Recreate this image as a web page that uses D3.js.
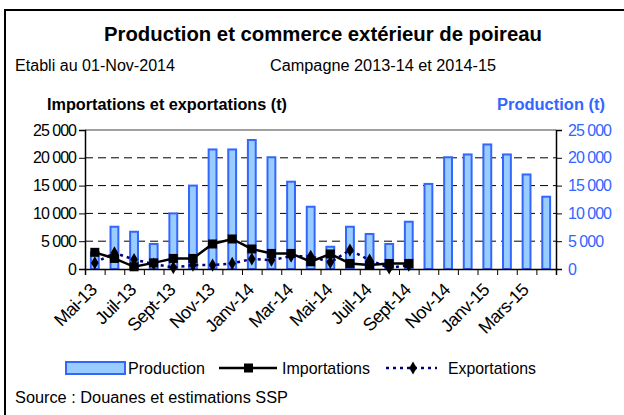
<!DOCTYPE html>
<html><head><meta charset="utf-8">
<script src="https://cdn.jsdelivr.net/npm/d3@7"></script>
<style>html,body{margin:0;padding:0;background:#fff}svg{display:block}text{font-family:"Liberation Sans",Arial,sans-serif}</style>
</head><body><div id="c"></div>
<script>
const months = ["Mai-13","Juin-13","Juil-13","Août-13","Sept-13","Oct-13","Nov-13","Déc-13","Janv-14","Févr-14","Mar-14","Avr-14","Mai-14","Juin-14","Juil-14","Août-14","Sept-14","Oct-14","Nov-14","Déc-14","Janv-15","Févr-15","Mars-15","Avr-15"];
const tickLabels = ["Mai-13","","Juil-13","","Sept-13","","Nov-13","","Janv-14","","Mar-14","","Mai-14","","Juil-14","","Sept-14","","Nov-14","","Janv-15","","Mars-15",""];
const production = [3000,7600,6700,4500,10000,15000,21500,21500,23200,20100,15700,11200,4000,7600,6300,4500,8500,15300,20100,20600,22400,20600,17000,13000];
const importations = [3000,1900,400,1100,1900,1900,4500,5400,3600,2800,2800,1300,2700,1000,700,1000,1000];
const exportations = [1100,2900,1700,900,250,700,700,1000,1800,1600,2300,2300,1200,3400,1600,200,700];
const yTicks = [0,5000,10000,15000,20000,25000];

const W=624,H=415;
const L=85,R=556,T=130,B=269;
const svg=d3.select("#c").append("svg").attr("width",W).attr("height",H);
svg.append("rect").attr("width",W).attr("height",H).attr("fill","#fff");
svg.append("path").attr("d","M5,420V10H630").attr("fill","none").attr("stroke","#000").attr("stroke-width",2);

const x=d3.scaleBand().domain(months).range([L,R]).padding(0);
const xi=d3.scaleLinear().domain([0,months.length]).range([L,R]);
const yL=d3.scaleLinear().domain([0,25000]).range([B,T]);
const yR=d3.scaleLinear().domain([0,25000]).range([B,T]);
const loc=d3.formatLocale({decimal:",",thousands:"\u2009",grouping:[3],currency:["",""]});
const fmt=v=>loc.format(",")(v).replace("\u2009"," ");

// grid
svg.append("g").selectAll("line").data(yTicks.filter(v=>v>0&&v<25000)).join("line")
 .attr("x1",L).attr("x2",R).attr("y1",d=>yL(d)).attr("y2",d=>yL(d))
 .attr("stroke","#000").attr("stroke-width",1).attr("stroke-dasharray","8,5");
svg.append("line").attr("x1",L).attr("x2",R).attr("y1",yL(25000)).attr("y2",yL(25000)).attr("stroke","#808080").attr("stroke-width",1.5);

// bars
const bw=x.bandwidth()*0.4;
svg.append("g").selectAll("rect").data(production).join("rect")
 .attr("x",(d,i)=>x(months[i])+(x.bandwidth()-bw)/2).attr("width",bw)
 .attr("y",d=>yR(d)).attr("height",d=>yR(0)-yR(d))
 .attr("fill","#99ccff").attr("stroke","#3366ff").attr("stroke-width",2);

// axes
const gl=svg.append("g").attr("transform",`translate(${L},0)`).call(d3.axisLeft(yL).tickValues(yTicks).tickFormat(fmt).tickSize(6).tickPadding(3));
gl.selectAll("text").attr("font-size",16).attr("fill","#000").attr("letter-spacing","-1");
gl.select(".domain").attr("stroke-width",1.5);
const gr=svg.append("g").attr("transform",`translate(${R},0)`).call(d3.axisRight(yR).tickValues(yTicks).tickFormat(fmt).tickSize(6).tickPadding(6));
gr.selectAll("text").attr("font-size",16).attr("fill","#3366ff").attr("letter-spacing","-1");
gr.select(".domain").attr("stroke-width",1.5);
const gb=svg.append("g").attr("transform",`translate(0,${B})`).call(d3.axisBottom(xi).tickValues(d3.range(months.length+1)).tickFormat("").tickSize(6));
gb.select(".domain").attr("stroke-width",1.5);
[gl,gr,gb].forEach(g=>g.selectAll("path,line").attr("stroke","#000"));

// x labels
svg.append("g").selectAll("text").data(months).join("text")
 .attr("transform",d=>`translate(${x(d)+x.bandwidth()/2+3},${B+22}) rotate(-45)`)
 .attr("text-anchor","end").attr("font-size",18).attr("letter-spacing","-0.6")
 .text((d,i)=>tickLabels[i]);

// lines
const cx=i=>x(months[i])+x.bandwidth()/2;
svg.append("path").datum(exportations).attr("fill","none").attr("stroke","#000080").attr("stroke-width",2.5).attr("stroke-dasharray","3,4")
 .attr("d",d3.line().x((d,i)=>cx(i)).y(d=>yL(d)));
svg.append("path").datum(importations).attr("fill","none").attr("stroke","#000").attr("stroke-width",2.5)
 .attr("d",d3.line().x((d,i)=>cx(i)).y(d=>yL(d)));
const diamond=d3.symbol().type(d3.symbolDiamond).size(50);
svg.append("g").selectAll("path").data(exportations).join("path")
 .attr("transform",(d,i)=>`translate(${cx(i)},${yL(d)})`).attr("d",diamond).attr("fill","#000");
svg.append("g").selectAll("rect").data(importations).join("rect")
 .attr("x",(d,i)=>cx(i)-4.5).attr("y",d=>yL(d)-4.5).attr("width",9).attr("height",9).attr("fill","#000");

// texts
function t(str,xp,yp,opt={}){
 const el=svg.append("text").attr("x",xp).attr("y",yp).attr("font-size",opt.size||16).attr("font-weight",opt.bold?"bold":"normal")
  .attr("fill",opt.color||"#000").attr("text-anchor",opt.anchor||"start").text(str);
 if(opt.len) el.attr("textLength",opt.len).attr("lengthAdjust","spacingAndGlyphs");
 return el;
}
t("Production et commerce extérieur de poireau",104,41,{size:20,bold:true,len:438});
t("Etabli au 01-Nov-2014",15,71,{size:16,len:160});
t("Campagne 2013-14 et 2014-15",270,71,{size:16,len:226});
t("Importations et exportations (t)",47,110,{size:16,bold:true,len:240});
t("Production (t)",497,110,{size:16,bold:true,color:"#3366ff",len:108});
t("Source : Douanes et estimations SSP",15,403,{size:16,len:273});

// legend
const ly=368;
svg.append("rect").attr("x",66).attr("y",ly-6).attr("width",59).attr("height",12).attr("fill","#99ccff").attr("stroke","#3366ff").attr("stroke-width",2);
t("Production",128,ly+6,{size:17,len:77});
svg.append("line").attr("x1",219).attr("x2",277).attr("y1",ly).attr("y2",ly).attr("stroke","#000").attr("stroke-width",2.5);
svg.append("rect").attr("x",244).attr("y",ly-4.5).attr("width",9).attr("height",9).attr("fill","#000");
t("Importations",282,ly+6,{size:17,len:88});
svg.append("line").attr("x1",386).attr("x2",437).attr("y1",ly).attr("y2",ly).attr("stroke","#000080").attr("stroke-width",2.5).attr("stroke-dasharray","3,4");
svg.append("path").attr("transform",`translate(413,${ly})`).attr("d",diamond).attr("fill","#000");
t("Exportations",448,ly+6,{size:17,len:88});
</script></body></html>
